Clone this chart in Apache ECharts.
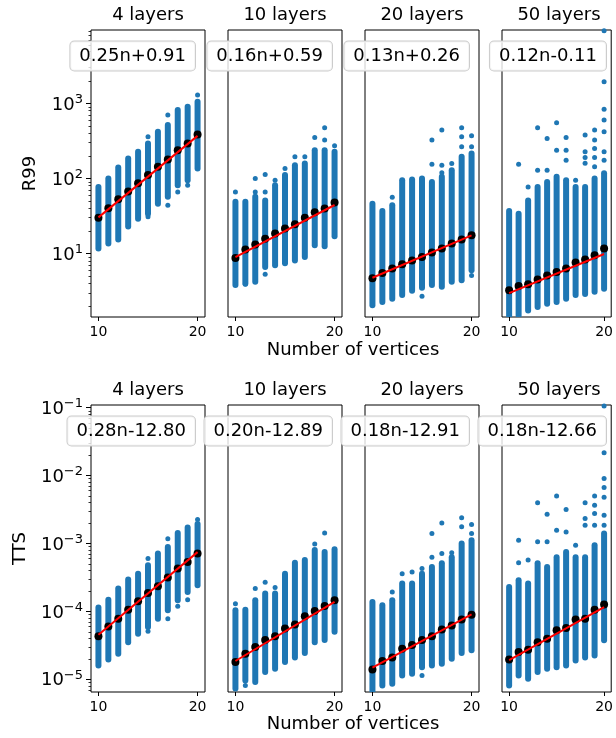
<!DOCTYPE html>
<html>
<head>
<meta charset="utf-8">
<title>R99 / TTS vs number of vertices</title>
<script src="https://cdn.jsdelivr.net/npm/echarts@6/dist/echarts.min.js"></script>
<style>
  html, body { margin: 0; background: #fff; }
  #main { width: 616px; height: 738px; }
</style>
</head>
<body>
<div id="main"></div>
<script>
// ---- data ----
var nValues = [10, 11, 12, 13, 14, 15, 16, 17, 18, 19, 20];
var layerTitles = ['4 layers', '10 layers', '20 layers', '50 layers'];
var xTicks = [10, 20];
var r99Exps = [1, 2, 3];            // 10^1 .. 10^3
var ttsExps = [-5, -4, -3, -2, -1]; // 10^-5 .. 10^-1
var minorSteps = [2, 3, 4, 5, 6, 7, 8, 9];

var r99FitText = ['0.25n+0.91', '0.16n+0.59', '0.13n+0.26', '0.12n-0.11'];
var r99FitEnds = [[30.3, 369], [8.94, 44.3], [4.76, 17.5], [2.97, 9.87]];
var r99Median = [
  [30, 40, 53, 67, 86.5, 111, 143, 179, 238, 293, 386],
  [8.7, 11.3, 13.2, 15.8, 18.5, 21.5, 24.6, 29.9, 35.6, 39.8, 47.9],
  [4.7, 5.5, 6.3, 7.2, 8.1, 9.0, 10.3, 11.7, 13.6, 15.4, 17.5],
  [3.24, 3.7, 3.9, 4.5, 5.1, 5.7, 6.3, 7.6, 8.3, 9.5, 11.7]
];
var r99Low = [
  [11.7, 13.6, 15.4, 23, 29, 34, 46, 57, 81, 95, 136],
  [3.8, 4.0, 4.2, 6.6, 7.0, 7.4, 8.1, 9.0, 12.9, 12.5, 17],
  [2.05, 2.27, 2.5, 2.8, 3.2, 3.5, 3.8, 3.6, 4.2, 4.4, 6.0],
  [1.3, 1.5, 1.75, 1.94, 2.15, 2.26, 2.5, 2.8, 2.9, 3.1, 3.4]
];
var r99High = [
  [77, 100, 140, 185, 226, 293, 418, 514, 815, 901, 1050],
  [49, 49, 57, 51, 81, 111, 150, 158, 238, 238, 226],
  [46, 37, 44, 95, 97, 100, 90, 105, 129, 194, 215],
  [37, 34, 51, 77, 90, 105, 95, 77, 77, 100, 117]
];
var r99Outliers = [
  [[15, 359], [15, 31], [17, 698], [17, 44], [18, 66], [19, 81], [20, 1290]],
  [[10, 66], [11, 3.9], [12, 100], [12, 66], [13, 113], [13, 66], [13, 5.3], [14, 95],
   [15, 136], [16, 194], [17, 194], [18, 352], [19, 473], [19, 324], [20, 272]],
  [[12, 56], [15, 2.7], [16, 324], [16, 154], [17, 441], [17, 150], [17, 119], [18, 158],
   [19, 473], [19, 359], [19, 264], [20, 370], [20, 264], [20, 5.1]],
  [[11, 155], [12, 77], [13, 473], [13, 129], [14, 341], [14, 129], [15, 551], [15, 238],
   [16, 352], [16, 238], [16, 175], [17, 95], [18, 378], [18, 226], [18, 190], [18, 160],
   [19, 441], [19, 324], [19, 251], [19, 190], [19, 143],
   [20, 9290], [20, 1940], [20, 832], [20, 599], [20, 418], [20, 226], [20, 175]]
];

var ttsFitText = ['0.28n-12.80', '0.20n-12.89', '0.18n-12.91', '0.18n-12.66'];
var ttsFitEnds = [[4.54e-5, 7.47e-4], [1.86e-5, 1.38e-4], [1.49e-5, 9.07e-5], [1.92e-5, 1.16e-4]];
var ttsMedian = [
  [4.3e-5, 6.0e-5, 7.8e-5, 1.06e-4, 1.41e-4, 1.87e-4, 2.35e-4, 3.15e-4, 4.28e-4, 5.36e-4, 7.1e-4],
  [1.8e-5, 2.38e-5, 3.0e-5, 3.8e-5, 4.3e-5, 5.6e-5, 6.4e-5, 8.5e-5, 1.01e-4, 1.2e-4, 1.46e-4],
  [1.4e-5, 1.86e-5, 2.1e-5, 2.83e-5, 3.2e-5, 3.8e-5, 4.3e-5, 5.4e-5, 6.2e-5, 7.6e-5, 8.9e-5],
  [1.95e-5, 2.52e-5, 2.73e-5, 3.5e-5, 3.97e-5, 5.3e-5, 5.7e-5, 7.6e-5, 7.8e-5, 1.06e-4, 1.26e-4]
];
var ttsLow = [
  [1.6e-5, 1.95e-5, 2.38e-5, 3.5e-5, 4.7e-5, 5.9e-5, 7.8e-5, 1.04e-4, 1.46e-4, 1.93e-4, 2.43e-4],
  [7.3e-6, 9.6e-6, 9.1e-6, 1.28e-5, 1.43e-5, 1.8e-5, 2.1e-5, 2.44e-5, 3.5e-5, 3.8e-5, 5.0e-5],
  [5.8e-6, 8.1e-6, 8.6e-6, 1.14e-5, 1.21e-5, 1.51e-5, 1.6e-5, 1.7e-5, 2.0e-5, 2.44e-5, 2.67e-5],
  [8.1e-6, 1.14e-5, 1.02e-5, 1.28e-5, 1.43e-5, 1.51e-5, 1.6e-5, 1.9e-5, 2.1e-5, 2.25e-5, 3.75e-5]
];
var ttsHigh = [
  [1.14e-4, 1.49e-4, 2.17e-4, 2.94e-4, 3.6e-4, 4.8e-4, 7.1e-4, 8.9e-4, 1.43e-3, 1.72e-3, 1.93e-3],
  [1.04e-4, 1.06e-4, 1.46e-4, 1.83e-4, 1.83e-4, 3.6e-4, 5.2e-4, 5.7e-4, 8.0e-4, 7.5e-4, 8.2e-4],
  [1.38e-4, 1.23e-4, 1.46e-4, 2.57e-4, 2.57e-4, 3.6e-4, 4.5e-4, 5.1e-4, 6.3e-4, 1.0e-3, 1.12e-3],
  [2.29e-4, 2.88e-4, 2.57e-4, 5.1e-4, 4.5e-4, 6.3e-4, 7.5e-4, 6.3e-4, 6.3e-4, 9.4e-4, 1.4e-3]
];
var ttsOutliers = [
  [[15, 6.0e-4], [15, 5.1e-5], [17, 1.18e-3], [17, 7.8e-5], [18, 1.19e-4], [19, 1.49e-4], [20, 2.26e-3]],
  [[10, 1.3e-4], [11, 8.1e-6], [12, 2.17e-4], [13, 2.68e-4], [14, 2.25e-4], [18, 9.8e-4], [19, 1.43e-3]],
  [[12, 1.93e-4], [13, 3.6e-4], [14, 3.8e-4], [15, 4.3e-4], [15, 1.14e-5], [16, 1.4e-3], [16, 6.3e-4],
   [17, 2.0e-3], [17, 7.1e-4], [18, 7.3e-4], [19, 2.4e-3], [19, 1.76e-3], [20, 1.9e-3], [20, 1.4e-3]],
  [[11, 1.12e-3], [11, 5.2e-4], [12, 5.7e-4], [13, 3.97e-3], [13, 1.06e-3], [14, 2.7e-3], [14, 1.06e-3],
   [15, 4.99e-3], [15, 1.57e-3], [16, 3.17e-3], [16, 1.48e-3], [17, 9.4e-4], [18, 3.97e-3], [18, 2.33e-3],
   [18, 1.86e-3], [19, 4.99e-3], [19, 3.67e-3], [19, 2.77e-3], [19, 1.86e-3],
   [20, 0.106], [20, 0.0217], [20, 9.1e-3], [20, 6.7e-3], [20, 4.8e-3], [20, 2.6e-3], [20, 1.86e-3]]
];

// ---- layout ----
var FONT = "'DejaVu Sans', sans-serif";
var BLUE = '#1f77b4';
var panelLeft = [91, 228, 365, 502];
var panelW = 114, panelH = 287;
var rowTop = [30, 405];
var rowRange = [[0.155, 3.977], [-5.187, -0.96]]; // log10 extents
var rowName = ['R99', 'TTS'];
var rowGap = [52, 62];

var rows = [
  {exps: r99Exps, fit: r99FitText, ends: r99FitEnds, med: r99Median, lo: r99Low, hi: r99High, out: r99Outliers},
  {exps: ttsExps, fit: ttsFitText, ends: ttsFitEnds, med: ttsMedian, lo: ttsLow, hi: ttsHigh, out: ttsOutliers}
];

function lg(v) { return Math.log10(v); }
function expLabel(v) {
  var e = Math.round(v);
  return '{b|10}{s|' + (e < 0 ? '\u2212' + (-e) : e) + '}';
}

var grids = [], xAxes = [], yAxes = [], series = [], graphics = [];
var minorAxes = [];

rows.forEach(function (row, r) {
  var minorVals = [];
  for (var e = -7; e <= 4; e++) {
    minorSteps.forEach(function (k) {
      var v = Math.log10(k) + e;
      if (v > rowRange[r][0] && v < rowRange[r][1]) minorVals.push(v);
    });
  }
  for (var p = 0; p < 4; p++) {
    var gi = r * 4 + p;
    var first = p === 0;
    grids.push({
      left: panelLeft[p], top: rowTop[r], width: panelW, height: panelH,
      show: true, borderColor: '#000', borderWidth: 1, backgroundColor: 'transparent'
    });
    xAxes.push({
      gridIndex: gi, type: 'value', min: 9.25, max: 20.75,
      axisLine: {show: false}, splitLine: {show: false},
      axisTick: {customValues: xTicks, length: 4, lineStyle: {color: '#000'}},
      axisLabel: {customValues: xTicks, fontSize: 14, fontFamily: FONT, color: '#000', margin: 8}
    });
    yAxes.push({
      gridIndex: gi, type: 'value', position: 'left', min: rowRange[r][0], max: rowRange[r][1],
      axisLine: {show: false}, splitLine: {show: false},
      axisTick: {show: first, customValues: row.exps, length: 5, lineStyle: {color: '#000'}},
      axisLabel: {
        show: first, customValues: row.exps, margin: 8, formatter: expLabel,
        rich: {
          b: {fontSize: 18, fontFamily: FONT, color: '#000', verticalAlign: 'bottom'},
          s: {fontSize: 13, fontFamily: FONT, color: '#000', verticalAlign: 'bottom', padding: [0, 0, 8, 0]}
        }
      },
      name: first ? rowName[r] : '', nameLocation: 'middle', nameGap: rowGap[r],
      nameTextStyle: {fontSize: 18, fontFamily: FONT, color: '#000'}
    });
    if (first) {
      minorAxes.push({
        gridIndex: gi, type: 'value', position: 'left', min: rowRange[r][0], max: rowRange[r][1],
        axisLine: {show: false}, splitLine: {show: false}, axisLabel: {show: false},
        axisTick: {customValues: minorVals, length: 2.5, lineStyle: {color: '#000', width: 0.8}}
      });
    }

    // dense column of runs for each n, drawn as a thick rounded stroke
    var cols = nValues.map(function (n, i) { return [n, lg(row.lo[p][i]), lg(row.hi[p][i])]; });
    series.push({
      type: 'custom', xAxisIndex: gi, yAxisIndex: gi, clip: true, z: 2,
      data: cols,
      renderItem: function (params, api) {
        var a = api.coord([api.value(0), api.value(1)]);
        var b = api.coord([api.value(0), api.value(2)]);
        var cs = params.coordSys;
        var y1 = Math.min(a[1], cs.y + cs.height + 3);
        return {
          type: 'line',
          shape: {x1: a[0], y1: y1, x2: b[0], y2: b[1]},
          style: {stroke: BLUE, lineWidth: 6, lineCap: 'round'}
        };
      }
    });
    series.push({
      type: 'scatter', xAxisIndex: gi, yAxisIndex: gi, z: 2,
      symbolSize: 5, itemStyle: {color: BLUE, opacity: 1},
      data: row.out[p].map(function (o) { return [o[0], lg(o[1])]; })
    });
    series.push({
      type: 'scatter', xAxisIndex: gi, yAxisIndex: gi, z: 3,
      symbolSize: 8, itemStyle: {color: '#000', opacity: 1},
      data: nValues.map(function (n, i) { return [n, lg(row.med[p][i])]; })
    });
    series.push({
      type: 'line', xAxisIndex: gi, yAxisIndex: gi, z: 4,
      symbol: 'none', lineStyle: {color: '#ff0000', width: 2},
      data: [[nValues[0], lg(row.ends[p][0])], [nValues[nValues.length - 1], lg(row.ends[p][1])]]
    });

    graphics.push({
      type: 'text', x: panelLeft[p] + panelW / 2, y: rowTop[r] - 15, z: 100,
      style: {text: layerTitles[p], font: '18px ' + FONT, fill: '#000', align: 'center', verticalAlign: 'middle'}
    });
    graphics.push({
      type: 'text', x: panelLeft[p] + panelW - 10, y: rowTop[r] + 26, z: 100,
      style: {
        text: row.fit[p], font: '18px ' + FONT, fill: '#000', align: 'right', verticalAlign: 'middle',
        backgroundColor: 'rgba(255,255,255,0.8)', borderColor: '#cccccc', borderWidth: 1,
        borderRadius: 4, padding: [6, 9, 5, 9]
      }
    });
  }
  graphics.push({
    type: 'text', x: 353, y: r === 0 ? 350 : 724, z: 100,
    style: {text: 'Number of vertices', font: '18px ' + FONT, fill: '#000', align: 'center', verticalAlign: 'middle'}
  });
});

var chart = echarts.init(document.getElementById('main'));
chart.setOption({
  animation: false,
  backgroundColor: '#fff',
  grid: grids,
  xAxis: xAxes,
  yAxis: yAxes.concat(minorAxes),
  series: series,
  graphic: graphics
});
</script>
</body>
</html>
